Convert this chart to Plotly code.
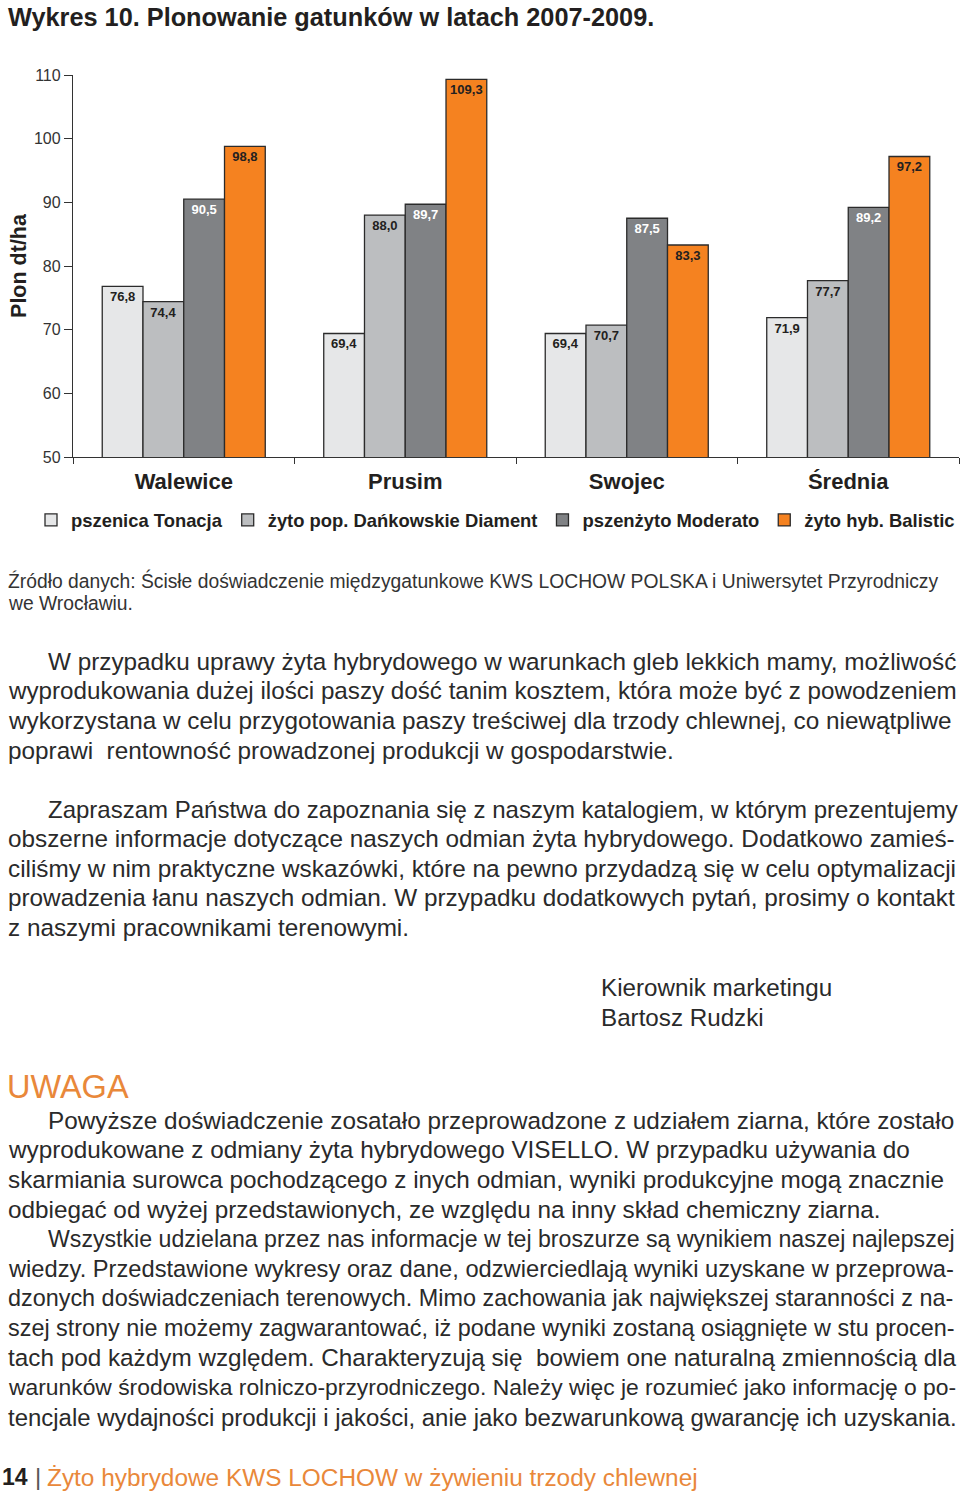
import plotly.graph_objects as go

# ---- data ----
categories = ["Walewice", "Prusim", "Swojec", "Średnia"]
series_names = ["pszenica Tonacja", "żyto pop. Dańkowskie Diament",
                "pszenżyto Moderato", "żyto hyb. Balistic"]
pszenica = [76.8, 69.4, 69.4, 71.9]
zyto_pop = [74.4, 88.0, 70.7, 77.7]
pszenzyto = [90.5, 89.7, 87.5, 89.2]
zyto_hyb = [98.8, 109.3, 83.3, 97.2]
y_ticks = [50, 60, 70, 80, 90, 100, 110]

series_values = [pszenica, zyto_pop, pszenzyto, zyto_hyb]
colors = ["#e6e7e8", "#bcbec0", "#808285", "#f58220"]
text_colors = ["#231f20", "#231f20", "#ffffff", "#231f20"]

W, H = 960, 1498
PL, PR, PT, PB = 73, 959, 75, 457  # plot area in page px

fig = go.Figure()
for name, vals, col, tc in zip(series_names, series_values, colors, text_colors):
    fig.add_trace(go.Bar(
        name=name, x=categories, y=vals,
        marker=dict(color=col, line=dict(color="#2b2b2b", width=1.3)),
        text=[f"{v:.1f}".replace(".", ",") for v in vals],
        textposition="inside", insidetextanchor="end", textangle=0,
        textfont=dict(family="Liberation Sans, Arial", size=13, color=tc, weight="bold"),
        cliponaxis=False,
    ))


def px2paper(px, py):
    return (px - PL) / (PR - PL), (PB - py) / (PB - PT)


annotations = []


def ann(px, py, text, size, color="#231f20", bold=False, family="Liberation Sans, Arial"):
    x, y = px2paper(px, py)
    annotations.append(dict(
        x=x, y=y, xref="paper", yref="paper", xanchor="left", yanchor="middle",
        text=text, showarrow=False, align="left",
        font=dict(family=family, size=size, color=color, weight="bold" if bold else "normal"),
    ))


# Title
ann(6, 17, "Wykres 10. Plonowanie gatunków w latach 2007-2009.", 25.3, bold=True)

# Source
ann(6, 580, "Źródło danych: Ścisłe doświadczenie międzygatunkowe KWS LOCHOW POLSKA i Uniwersytet Przyrodniczy", 19.3, color="#333333")
ann(6, 603, "we Wrocławiu.", 19.3, color="#333333")

body_color = "#2a2a2a"
para1 = [
    (46, 24.3, "W przypadku uprawy żyta hybrydowego w warunkach gleb lekkich mamy, możliwość"),
    (6, 24.2, "wyprodukowania dużej ilości paszy dość tanim kosztem, która może być z powodzeniem"),
    (6, 24.3, "wykorzystana w celu przygotowania paszy treściwej dla trzody chlewnej, co niewątpliwe"),
    (6, 24.3, "poprawi  rentowność prowadzonej produkcji w gospodarstwie."),
]
for i, (x0, sz, line) in enumerate(para1):
    ann(x0, 661 + i * 29.7, line, sz, color=body_color)

para2 = [
    (46, 24.0, "Zapraszam Państwa do zapoznania się z naszym katalogiem, w którym prezentujemy"),
    (6, 24.3, "obszerne informacje dotyczące naszych odmian żyta hybrydowego. Dodatkowo zamieś-"),
    (6, 24.3, "ciliśmy w nim praktyczne wskazówki, które na pewno przydadzą się w celu optymalizacji"),
    (6, 24.3, "prowadzenia łanu naszych odmian. W przypadku dodatkowych pytań, prosimy o kontakt"),
    (6, 24.3, "z naszymi pracownikami terenowymi."),
]
for i, (x0, sz, line) in enumerate(para2):
    ann(x0, 809 + i * 29.6, line, sz, color=body_color)

ann(599, 987, "Kierownik marketingu", 24.2, color=body_color)
ann(599, 1017, "Bartosz Rudzki", 24.2, color=body_color)

ann(5, 1087, "UWAGA", 32.5, color="#e9883a")

para3 = [
    (46, 24.3, "Powyższe doświadczenie zosatało przeprowadzone z udziałem ziarna, które zostało"),
    (6, 24.3, "wyprodukowane z odmiany żyta hybrydowego VISELLO. W przypadku używania do"),
    (6, 24.3, "skarmiania surowca pochodzącego z inych odmian, wyniki produkcyjne mogą znacznie"),
    (6, 24.3, "odbiegać od wyżej przedstawionych, ze względu na inny skład chemiczny ziarna."),
    (46, 23.15, "Wszystkie udzielana przez nas informacje w tej broszurze są wynikiem naszej najlepszej"),
    (6, 23.7, "wiedzy. Przedstawione wykresy oraz dane, odzwierciedlają wyniki uzyskane w przeprowa-"),
    (6, 23.4, "dzonych doświadczeniach terenowych. Mimo zachowania jak największej staranności z na-"),
    (6, 23.4, "szej strony nie możemy zagwarantować, iż podane wyniki zostaną osiągnięte w stu procen-"),
    (6, 24.3, "tach pod każdym względem. Charakteryzują się  bowiem one naturalną zmiennością dla"),
    (6, 22.85, "warunków środowiska rolniczo-przyrodniczego. Należy więc je rozumieć jako informację o po-"),
    (6, 23.95, "tencjale wydajności produkcji i jakości, anie jako bezwarunkową gwarancję ich uzyskania."),
]
for i, (x0, sz, line) in enumerate(para3):
    ann(x0, 1120 + i * 29.7, line, sz, color=body_color)

# Footer
ann(0, 1477, "14", 23, color="#231f20", bold=True)
ann(33, 1476, "|", 24, color="#555555")
ann(45, 1477, "Żyto hybrydowe KWS LOCHOW w żywieniu trzody chlewnej", 24.4, color="#e9883a")

lx, ly = px2paper(31, 520)

fig.update_layout(
    width=W, height=H,
    margin=dict(l=PL, r=W - PR, t=PT, b=H - PB, autoexpand=False),
    paper_bgcolor="white", plot_bgcolor="white",
    barmode="group", bargap=0.264, bargroupgap=0,
    uniformtext=dict(minsize=13, mode="show"),
    font=dict(family="Liberation Sans, Arial", color="#231f20"),
    showlegend=True,
    legend=dict(
        orientation="h", x=lx, y=ly, xref="paper", yref="paper",
        xanchor="left", yanchor="middle",
        font=dict(size=18.4, color="#231f20", weight="bold"),
        itemclick=False, tracegroupgap=0,
    ),
    annotations=annotations,
    xaxis=dict(
        type="category", showline=True, linecolor="#333333", linewidth=1.3,
        ticks="outside", tickson="boundaries", ticklen=6, tickcolor="#333333",
        tickfont=dict(size=22, color="#231f20", weight="bold"),
        ticklabelstandoff=4, showgrid=False, automargin=False,
    ),
    yaxis=dict(
        range=[50, 110], tickvals=y_ticks, showline=True, linecolor="#333333",
        linewidth=1.3, ticks="outside", ticklen=8, tickcolor="#333333",
        tickfont=dict(size=16, color="#333333"), showgrid=False, zeroline=False,
        automargin=False,
        title=dict(text="Plon dt/ha", font=dict(size=21.5, color="#231f20", weight="bold"), standoff=1),
    ),
)

fig.write_html("out.html", config={"displayModeBar": False},
               post_script="document.body.style.margin='0';")
